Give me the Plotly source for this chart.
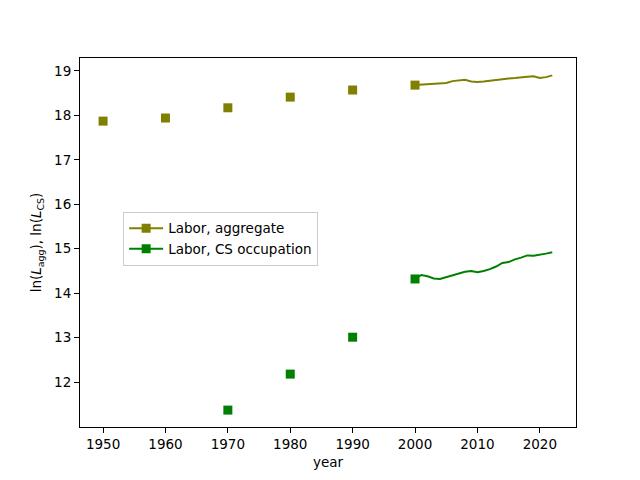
import plotly.graph_objects as go

dec_years_agg = [1950, 1960, 1970, 1980, 1990, 2000]
dec_agg = [17.87, 17.94, 18.17, 18.41, 18.57, 18.68]
dec_years_cs = [1970, 1980, 1990, 2000]
dec_cs = [11.37, 12.18, 13.01, 14.32]

ann_years = list(range(2000, 2023))
ann_agg = [18.68, 18.69, 18.69, 18.70, 18.71, 18.73, 18.77, 18.78, 18.80, 18.76,
           18.75, 18.76, 18.78, 18.79, 18.81, 18.83, 18.84, 18.86, 18.87, 18.88,
           18.84, 18.86, 18.90]
ann_cs = [14.32, 14.41, 14.38, 14.33, 14.32, 14.36, 14.40, 14.44, 14.48, 14.50,
          14.47, 14.50, 14.54, 14.60, 14.68, 14.70, 14.76, 14.80, 14.85, 14.84,
          14.86, 14.89, 14.92]

OLIVE = "#808000"
GREEN = "#008000"
FONT = "DejaVu Sans"

fig = go.Figure()
fig.add_trace(go.Scatter(x=dec_years_agg, y=dec_agg, mode="markers",
                         marker=dict(symbol="square", size=9, color=OLIVE),
                         showlegend=False))
fig.add_trace(go.Scatter(x=ann_years, y=ann_agg, mode="lines",
                         line=dict(color=OLIVE, width=2), showlegend=False))
fig.add_trace(go.Scatter(x=dec_years_cs, y=dec_cs, mode="markers",
                         marker=dict(symbol="square", size=9, color=GREEN),
                         showlegend=False))
fig.add_trace(go.Scatter(x=ann_years, y=ann_cs, mode="lines",
                         line=dict(color=GREEN, width=2), showlegend=False))
fig.add_trace(go.Scatter(x=[None], y=[None], mode="lines+markers", name="Labor, aggregate",
                         line=dict(color=OLIVE, width=2),
                         marker=dict(symbol="square", size=9, color=OLIVE)))
fig.add_trace(go.Scatter(x=[None], y=[None], mode="lines+markers", name="Labor, CS occupation",
                         line=dict(color=GREEN, width=2),
                         marker=dict(symbol="square", size=9, color=GREEN)))

axis_common = dict(showline=True, linecolor="black", linewidth=1, mirror=True,
                   ticks="outside", ticklen=5, tickcolor="black", showgrid=False,
                   zeroline=False, automargin=False,
                   tickfont=dict(family=FONT, size=13.5, color="black"))

fig.update_layout(
    width=640, height=480,
    margin=dict(l=72, r=72, t=50, b=61),
    paper_bgcolor="white", plot_bgcolor="white",
    font=dict(family=FONT, size=13, color="black"),
    xaxis=dict(range=[1946.3, 2025.8], tickvals=[1950, 1960, 1970, 1980, 1990, 2000, 2010, 2020],
               title=dict(text="year", standoff=6, font=dict(family=FONT, size=13.5, color="black")),
               **axis_common),
    yaxis=dict(range=[10.99, 19.29], tickvals=[12, 13, 14, 15, 16, 17, 18, 19],
               title=dict(text="ln(<i>L</i><sub>agg</sub>), ln(<i>L</i><sub>CS</sub>)", standoff=9,
                          font=dict(family=FONT, size=13.5, color="black")),
               **axis_common),
    legend=dict(x=0.087, y=0.583, xanchor="left", yanchor="top",
                bgcolor="rgba(255,255,255,0.8)", bordercolor="#cccccc", borderwidth=1,
                tracegroupgap=0, itemwidth=34,
                font=dict(family=FONT, size=13.5, color="black")),
)

fig.write_html("out.html")
